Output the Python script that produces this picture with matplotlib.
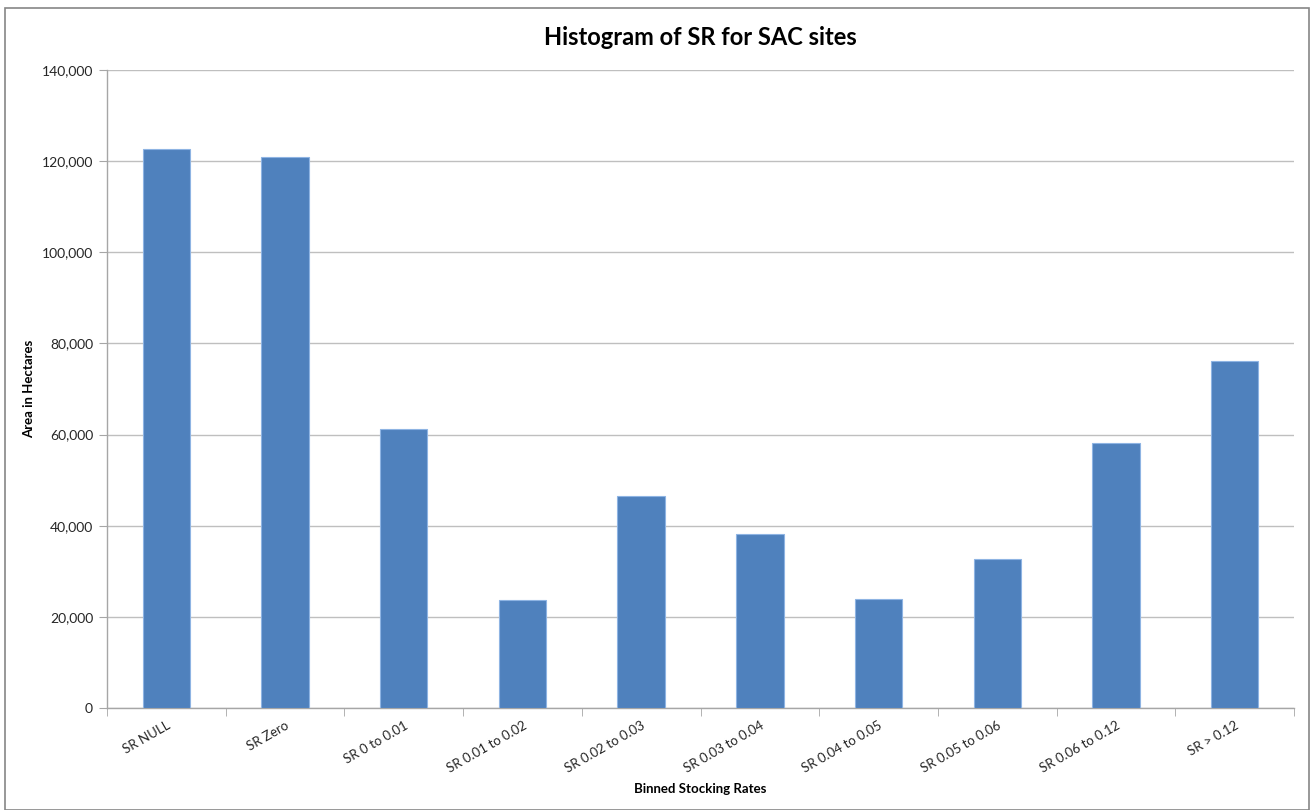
import matplotlib
matplotlib.use("Agg")
import matplotlib.pyplot as plt
from matplotlib.patches import Rectangle
from matplotlib.ticker import FuncFormatter, FixedLocator
import numpy as np

categories = ["SR NULL", "SR Zero", "SR 0 to 0.01", "SR 0.01 to 0.02", "SR 0.02 to 0.03",
              "SR 0.03 to 0.04", "SR 0.04 to 0.05", "SR 0.05 to 0.06", "SR 0.06 to 0.12", "SR > 0.12"]
values = [122600, 120900, 61200, 23700, 46500, 38200, 23900, 32700, 58100, 76100]
yticks = [0, 20000, 40000, 60000, 80000, 100000, 120000, 140000]

plt.rcParams['font.family'] = ['Lato', 'DejaVu Sans']

fig = plt.figure(figsize=(13.15, 8.1), dpi=100)
ax = fig.add_axes([107/1315, 1-708/810, (1294-107)/1315, (708-70)/810])

# figure border
fig.patches.append(Rectangle((5/1315, 0), (1309-5)/1315, 1-8/810, transform=fig.transFigure,
                             fill=False, edgecolor='#868686', linewidth=1.2, zorder=0))

x = np.arange(len(categories))
ax.bar(x, values, width=0.40, color='#4F81BD', edgecolor='#8EB4E3', linewidth=0.8, zorder=3)

ax.set_xlim(-0.5, len(categories) - 0.5)
ax.set_ylim(0, 140000)
ax.set_yticks(yticks)
ax.yaxis.set_major_formatter(FuncFormatter(lambda v, p: f"{int(v):,}"))
ax.grid(axis='y', color='#BFBFBF', linewidth=1, zorder=0)
ax.set_axisbelow(True)

for s in ['top', 'right']:
    ax.spines[s].set_visible(False)
for s in ['left', 'bottom']:
    ax.spines[s].set_color('#A6A6A6')
    ax.spines[s].set_linewidth(1)

ax.tick_params(axis='y', length=6, color='#A6A6A6', labelsize=10, labelcolor='#262626', pad=4)
ax.set_xticks(x)
ax.set_xticklabels(categories, rotation=30, ha='right', rotation_mode='anchor', fontsize=9.5, color='#262626')
ax.tick_params(axis='x', length=0, pad=8)
ax.xaxis.set_minor_locator(FixedLocator(np.arange(-0.5, len(categories), 1.0)))
ax.tick_params(axis='x', which='minor', length=6, color='#A6A6A6')

ax.set_title("Histogram of SR for SAC sites", fontsize=17, fontweight='bold', pad=18, color='#000000')
ax.set_ylabel("Area in Hectares", fontsize=9.5, fontweight='bold')
ax.yaxis.set_label_coords((35 - 107) / 1187, 0.5)
ax.set_xlabel("Binned Stocking Rates", fontsize=9.5, fontweight='bold', labelpad=6)

fig.savefig("out.png", dpi=100)
